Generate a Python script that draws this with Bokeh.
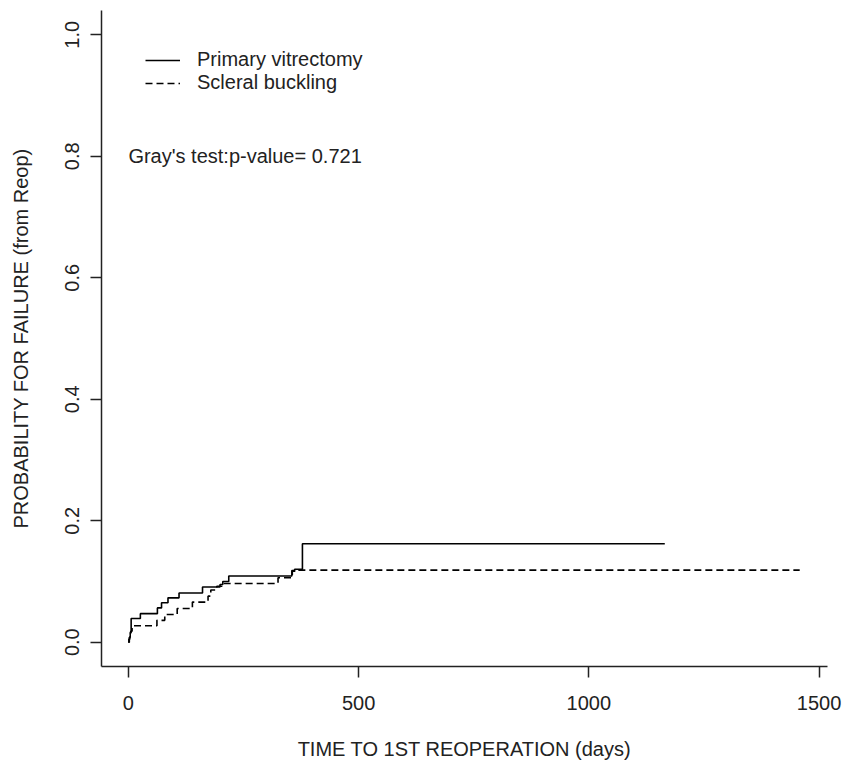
from bokeh.plotting import figure
from bokeh.models import FixedTicker, Range1d, Legend, LegendItem, Label
from bokeh.embed import file_html
from bokeh.resources import INLINE

# ---- data ----
times_pv = [0, 2, 4, 6, 26, 63, 72, 86, 110, 161, 199, 205, 218, 355, 361, 378, 1165]
probs_pv = [0, 0.008, 0.016, 0.039, 0.047, 0.0565, 0.065, 0.073, 0.081, 0.091,
            0.095, 0.100, 0.109, 0.118, 0.120, 0.162, 0.162]

times_sb = [0, 1, 3, 5, 8, 62, 79, 106, 139, 173, 179, 192, 203, 325, 356, 365, 1458]
probs_sb = [0, 0.005, 0.012, 0.018, 0.027, 0.036, 0.0456, 0.0555, 0.066, 0.0758,
            0.086, 0.092, 0.0967, 0.106, 0.117, 0.1186, 0.1186]

x_ticks = [0, 500, 1000, 1500]
y_ticks = [0.0, 0.2, 0.4, 0.6, 0.8, 1.0]
y_tick_labels = ["0.0", "0.2", "0.4", "0.6", "0.8", "1.0"]

series_names = ["Primary vitrectomy", "Scleral buckling"]
annot_text = "Gray's test:p-value= 0.721"
annot_x, annot_y = 0, 0.8

FONT = "Liberation Sans"
FS = "20px"

p = figure(width=842, height=765, output_backend="svg", toolbar_location=None,
           x_range=Range1d(-58.4, 1518.4), y_range=Range1d(-0.04, 1.04),
           min_border_left=101, min_border_right=15, min_border_top=10,
           min_border_bottom=99)
p.outline_line_color = None
p.xgrid.visible = False
p.ygrid.visible = False
p.background_fill_color = "white"
p.border_fill_color = "white"

r1 = p.step(times_pv, probs_pv, mode="after", line_color="black", line_width=1.6)
r2 = p.step(times_sb, probs_sb, mode="after", line_color="black", line_width=1.6,
            line_dash="7 4")

for ax in (p.xaxis[0], p.yaxis[0]):
    ax.axis_line_color = "#222222"
    ax.axis_line_width = 1.5
    ax.major_tick_line_color = "#222222"
    ax.major_tick_line_width = 1.5
    ax.major_tick_out = 11
    ax.major_tick_in = 0
    ax.minor_tick_line_color = None
    ax.major_label_text_font = FONT
    ax.major_label_text_font_size = FS
    ax.major_label_text_color = "#222222"
    ax.axis_label_text_font = FONT
    ax.axis_label_text_font_size = FS
    ax.axis_label_text_font_style = "normal"
    ax.axis_label_text_color = "#222222"

p.xaxis.ticker = FixedTicker(ticks=x_ticks)
p.xaxis.major_label_standoff = 18
p.xaxis.axis_label = "TIME TO 1ST REOPERATION (days)"
p.xaxis.axis_label_standoff = 25

p.yaxis.ticker = FixedTicker(ticks=y_ticks)
p.yaxis.major_label_overrides = {t: l for t, l in zip(y_ticks, y_tick_labels)}
p.yaxis.major_label_orientation = "vertical"
p.yaxis.major_label_standoff = 11
p.yaxis.axis_label = "PROBABILITY FOR FAILURE (from Reop)"
p.yaxis.axis_label_standoff = 31

legend = Legend(items=[LegendItem(label=series_names[0], renderers=[r1]),
                       LegendItem(label=series_names[1], renderers=[r2])],
                location=(44, 572), orientation="vertical",
                glyph_width=35, glyph_height=20, label_height=20, spacing=0,
                label_standoff=17, padding=0, margin=0,
                border_line_color=None, background_fill_alpha=0,
                label_text_font=FONT, label_text_font_size=FS,
                label_text_color="#222222")
p.add_layout(legend)

p.add_layout(Label(x=annot_x, y=annot_y, text=annot_text, text_font=FONT,
                   text_font_size=FS, text_color="#222222", text_align="left",
                   text_baseline="middle"))

open("out.html", "w").write(file_html(p, INLINE))
